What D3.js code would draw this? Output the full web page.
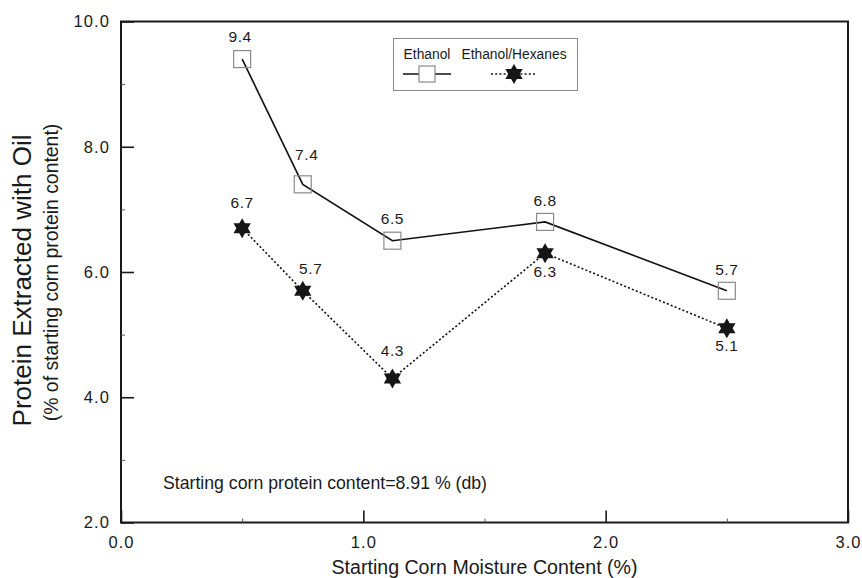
<!DOCTYPE html>
<html>
<head>
<meta charset="utf-8">
<script src="https://cdn.jsdelivr.net/npm/d3@7"></script>
<style>
  html, body { margin: 0; padding: 0; background: #fff; }
  svg { display: block; font-family: "Liberation Sans", Arial, Helvetica, sans-serif; }
</style>
</head>
<body>
<svg id="chart" width="862" height="578"></svg>
<script>
// Moisture content of the starting corn (%)
const moisture = [0.5, 0.75, 1.12, 1.75, 2.5];
// Protein extracted with oil (% of starting corn protein content)
const ethanol = [9.4, 7.4, 6.5, 6.8, 5.7];
const ethanolHexanes = [6.7, 5.7, 4.3, 6.3, 5.1];
const seriesNames = ["Ethanol", "Ethanol/Hexanes"];
const xTicks = [0.0, 1.0, 2.0, 3.0];
const xMinorTicks = [0.5, 1.5, 2.5];
const yTicks = [2.0, 4.0, 6.0, 8.0, 10.0];
const yMinorTicks = [3.0, 5.0, 7.0, 9.0];
const note = "Starting corn protein content=8.91 % (db)";

const svg = d3.select("#chart");
const plot = { left: 121, right: 848, top: 21.5, bottom: 522.5 };
const ink = "#1a1a1a";

const x = d3.scaleLinear().domain([0, 3]).range([plot.left, plot.right]);
const y = d3.scaleLinear().domain([2, 10]).range([plot.bottom, plot.top]);
const fmt = d3.format(".1f");

// Plot frame
svg.append("rect")
  .attr("x", plot.left).attr("y", plot.top)
  .attr("width", plot.right - plot.left).attr("height", plot.bottom - plot.top)
  .attr("fill", "none").attr("stroke", ink).attr("stroke-width", 2);

function styleTickText(sel) {
  sel.attr("font-size", 16.5).attr("letter-spacing", 1.1)
    .attr("fill", ink).attr("font-family", null);
}

// Bottom axis: inward ticks, major and minor
const xAxis = svg.append("g").attr("transform", `translate(0,${plot.bottom})`)
  .call(d3.axisBottom(x).tickValues(xTicks).tickFormat(fmt).tickSizeInner(-12).tickSizeOuter(0).tickPadding(14));
xAxis.select(".domain").remove();
xAxis.selectAll(".tick line").attr("stroke", ink).attr("stroke-width", 1.6);
styleTickText(xAxis.selectAll(".tick text"));
const xMinor = svg.append("g").attr("transform", `translate(0,${plot.bottom})`)
  .call(d3.axisBottom(x).tickValues(xMinorTicks).tickFormat("").tickSizeInner(-4).tickSizeOuter(0));
xMinor.select(".domain").remove();
xMinor.selectAll(".tick line").attr("stroke", "#555").attr("stroke-width", 1);

// Left axis
const yAxis = svg.append("g").attr("transform", `translate(${plot.left},0)`)
  .call(d3.axisLeft(y).tickValues(yTicks).tickFormat(fmt).tickSizeInner(-13).tickSizeOuter(0).tickPadding(11));
yAxis.select(".domain").remove();
yAxis.selectAll(".tick line").attr("stroke", ink).attr("stroke-width", 1.6);
styleTickText(yAxis.selectAll(".tick text"));
const yMinor = svg.append("g").attr("transform", `translate(${plot.left},0)`)
  .call(d3.axisLeft(y).tickValues(yMinorTicks).tickFormat("").tickSizeInner(-4).tickSizeOuter(0));
yMinor.select(".domain").remove();
yMinor.selectAll(".tick line").attr("stroke", "#555").attr("stroke-width", 1);

// Axis titles
svg.append("text")
  .attr("x", x(1.5)).attr("y", 574)
  .attr("text-anchor", "middle").attr("font-size", 19.6).attr("fill", ink)
  .text("Starting Corn Moisture Content (%)");
svg.append("text")
  .attr("transform", "translate(31,280.5) rotate(-90)")
  .attr("text-anchor", "middle").attr("font-size", 26).attr("fill", ink)
  .text("Protein Extracted with Oil");
svg.append("text")
  .attr("transform", "translate(58,272.5) rotate(-90)")
  .attr("text-anchor", "middle").attr("font-size", 19.4).attr("fill", ink)
  .text("(% of starting corn protein content)");

// Six-pointed star marker
function hexagram(R) {
  const r = R / Math.sqrt(3);
  const pts = [];
  for (let i = 0; i < 12; i++) {
    const a = -Math.PI / 2 + i * Math.PI / 6;
    const rad = i % 2 === 0 ? R : r;
    pts.push([rad * Math.cos(a), rad * Math.sin(a)]);
  }
  return "M" + pts.map(p => p.join(",")).join("L") + "Z";
}

const line = d3.line().x(d => x(d[0])).y(d => y(d[1]));
const ethPts = moisture.map((m, i) => [m, ethanol[i]]);
const hexPts = moisture.map((m, i) => [m, ethanolHexanes[i]]);

// Ethanol series: solid line, open squares
svg.append("path").datum(ethPts).attr("d", line)
  .attr("fill", "none").attr("stroke", "#111").attr("stroke-width", 1.6);
const sq = 17;
svg.selectAll(".sq").data(ethPts).enter().append("rect")
  .attr("x", d => x(d[0]) - sq / 2).attr("y", d => y(d[1]) - sq / 2)
  .attr("width", sq).attr("height", sq)
  .attr("fill", "none").attr("stroke", "#8a8a8a").attr("stroke-width", 1.2);

// Ethanol/Hexanes series: dotted line, filled stars
svg.append("path").datum(hexPts).attr("d", line)
  .attr("fill", "none").attr("stroke", "#111").attr("stroke-width", 1.6)
  .attr("stroke-dasharray", "2,2.2");
svg.selectAll(".star").data(hexPts).enter().append("path")
  .attr("transform", d => `translate(${x(d[0])},${y(d[1])})`)
  .attr("d", hexagram(10)).attr("fill", "#151515");

// Value labels
const ethLabelShift = [[-2, -17], [4, -24], [0, -17], [0, -16], [0, -16]];
const hexLabelShift = [[0, -20], [8, -17], [0, -22], [0, 24], [0, 23]];
function valueLabels(cls, pts, shift) {
  svg.selectAll("." + cls).data(pts).enter().append("text")
    .attr("x", (d, i) => x(d[0]) + shift[i][0])
    .attr("y", (d, i) => y(d[1]) + shift[i][1])
    .attr("text-anchor", "middle").attr("font-size", 15.5).attr("letter-spacing", 0.6)
    .attr("fill", ink)
    .text(d => fmt(d[1]));
}
valueLabels("lblE", ethPts, ethLabelShift);
valueLabels("lblH", hexPts, hexLabelShift);

// Note
svg.append("text").attr("x", 163).attr("y", 489)
  .attr("font-size", 17.7).attr("fill", ink).text(note);

// Legend
const lg = svg.append("g");
lg.append("rect").attr("x", 393.5).attr("y", 38.5).attr("width", 184).attr("height", 52)
  .attr("fill", "#fff").attr("stroke", "#8a8a8a").attr("stroke-width", 1);
lg.append("text").attr("x", 427).attr("y", 59).attr("text-anchor", "middle")
  .attr("font-size", 13.8).attr("fill", ink).text(seriesNames[0]);
lg.append("text").attr("x", 514).attr("y", 59).attr("text-anchor", "middle")
  .attr("font-size", 13.8).attr("fill", ink).text(seriesNames[1]);
lg.append("line").attr("x1", 403).attr("x2", 451).attr("y1", 74).attr("y2", 74)
  .attr("stroke", "#111").attr("stroke-width", 1.6);
lg.append("rect").attr("x", 427 - 8).attr("y", 74 - 8).attr("width", 16).attr("height", 16)
  .attr("fill", "#fff").attr("stroke", "#8a8a8a").attr("stroke-width", 1.2);
lg.append("line").attr("x1", 491).attr("x2", 537).attr("y1", 74).attr("y2", 74)
  .attr("stroke", "#111").attr("stroke-width", 1.6).attr("stroke-dasharray", "2,2.2");
lg.append("path").attr("transform", "translate(514,74)").attr("d", hexagram(10)).attr("fill", "#151515");
</script>
</body>
</html>
